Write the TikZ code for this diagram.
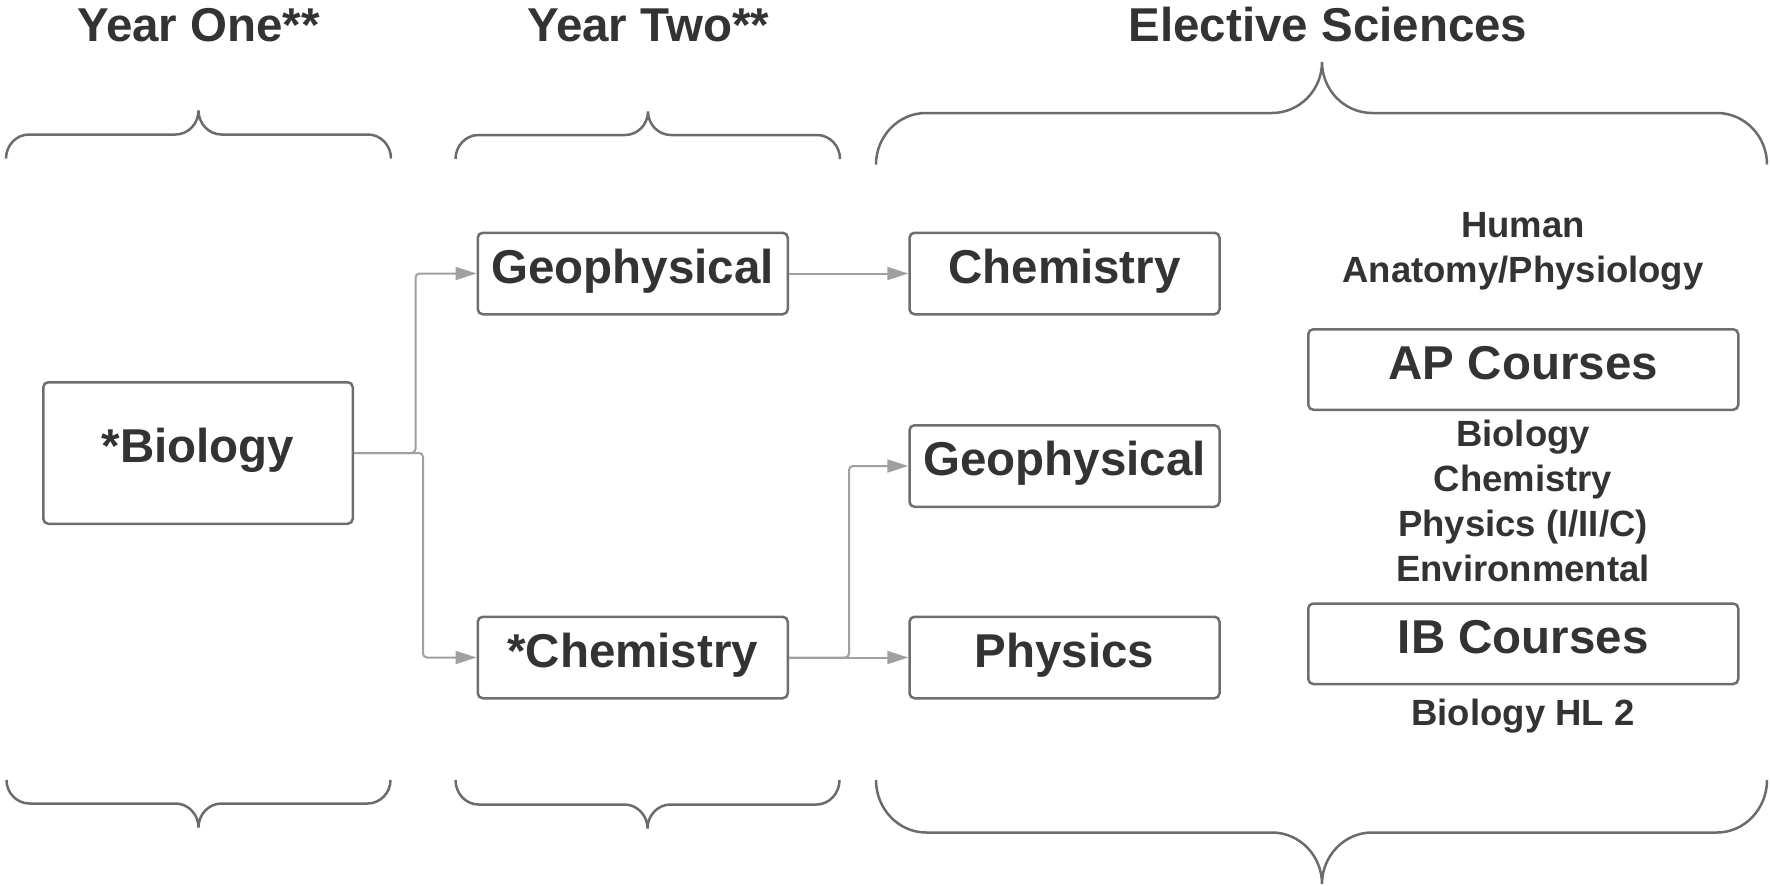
\documentclass[tikz,border=0pt]{standalone}
\usepackage{fontspec}
\setmainfont{Liberation Sans}
\usetikzlibrary{arrows.meta}
\definecolor{txt}{HTML}{333333}
\definecolor{boxc}{HTML}{6E6E6E}
\definecolor{arrc}{HTML}{A0A0A0}
\definecolor{brc}{HTML}{6B6B6B}
% #1 xl, #2 xr, #3 xtip, #4 yEnd, #5 yH, #6 yTip, #7 radius
\newcommand\mybrace[7]{%
  \draw[bracestyle] (#1,#4) .. controls (#1,{#4-0.55*(#4-#5)}) and ({#1+0.45*#7},#5) .. ({#1+#7},#5)
    -- ({#3-#7},#5) .. controls ({#3-0.45*#7},#5) and (#3,{#6+0.55*(#5-#6)}) .. (#3,#6)
    .. controls (#3,{#6+0.55*(#5-#6)}) and ({#3+0.45*#7},#5) .. ({#3+#7},#5)
    -- ({#2-#7},#5) .. controls ({#2-0.45*#7},#5) and (#2,{#4-0.55*(#4-#5)}) .. (#2,#4);}
\begin{document}
\begin{tikzpicture}[x=1pt,y=-1pt,
  box/.style={draw=boxc, line width=2.5pt, rounded corners=5pt, inner sep=0pt,
    text height=19pt, text depth=0pt, text=txt, font=\fontsize{47.5}{57}\selectfont\bfseries,
    minimum width=310pt, minimum height=81.5pt},
  title/.style={anchor=base, inner sep=0pt, text=txt, font=\fontsize{47.5}{57}\selectfont\bfseries},
  small/.style={anchor=base, inner sep=0pt, text=txt, font=\fontsize{36.5}{44}\selectfont\bfseries},
  arr/.style={draw=arrc, line width=2pt, rounded corners=4pt, -{Triangle[length=21pt,width=13pt]}},
  bracestyle/.style={draw=brc, line width=2.5pt}]
\useasboundingbox (0,0) rectangle (1770,886);

% titles
\node[title] (t1) at (198.5,41.5) {Year One**};
\node[title] (t2) at (648,41.5) {Year Two**};
\node[title] (t3) at (1328,41.5) {Elective Sciences};

% braces
\mybrace{6}{391}{198.5}{158.5}{134.5}{110.5}{23}
\mybrace{455.5}{840}{648}{159}{135}{111.5}{23}
\mybrace{876}{1767}{1322}{164.5}{113}{62}{50}
\mybrace{6.5}{390.5}{198.5}{780}{803.5}{827.5}{23}
\mybrace{455.5}{839.5}{647.5}{780}{804.5}{828.5}{23}
\mybrace{876}{1767}{1322}{780}{832.5}{884}{50}

% boxes
\node[box, minimum width=309.5pt, minimum height=141.5pt] (bio) at (198,453) {*Biology};
\node[box] (geo2) at (632.75,273.5) {Geophysical};
\node[box] (chem2) at (632.75,657.5) {*Chemistry};
\node[box] (chemE) at (1064.5,273.5) {Chemistry};
\node[box] (geoE) at (1064.5,466) {Geophysical};
\node[box] (physE) at (1064.5,657.5) {Physics};
\node[box, minimum width=430pt, minimum height=80.5pt] (ap) at (1523.25,369.5) {AP Courses};
\node[box, minimum width=430pt, minimum height=80.5pt] (ib) at (1523.25,643.75) {IB Courses};

% right column text
\node[small] (hum) at (1523,237.5) {Human};
\node[small] (anat) at (1523,282.3) {Anatomy/Physiology};
\node[small] (apbio) at (1523,446.5) {Biology};
\node[small] (apchem) at (1523,491.3) {Chemistry};
\node[small] (apphys) at (1523,536.1) {Physics (I/II/C)};
\node[small] (apenv) at (1523,581) {Environmental};
\node[small] (ibbio) at (1523,725) {Biology HL 2};

% connectors
\draw[arr] (bio.east) -- ++(61.5,0) |- (geo2.west);
\draw[arr] (bio.east) -- ++(69,0) |- (chem2.west);
\draw[arr] (geo2.east) -- (chemE.west);
\draw[arr] (chem2.east) -- ++(60,0) |- (geoE.west);
\draw[arr] (chem2.east) -- (physE.west);
\end{tikzpicture}
\end{document}
